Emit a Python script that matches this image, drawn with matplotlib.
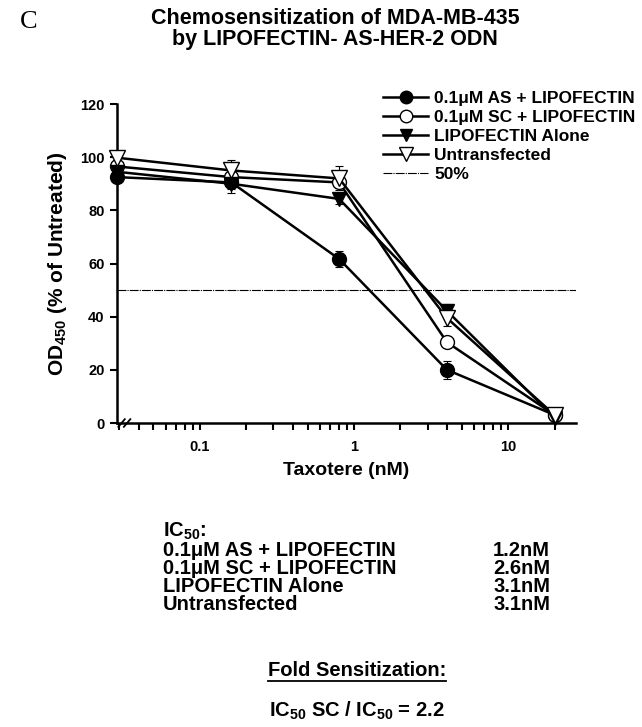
import matplotlib
matplotlib.use("Agg")
import matplotlib.pyplot as plt
from matplotlib.lines import Line2D
from matplotlib.ticker import FixedLocator, FixedFormatter, NullFormatter

plt.rcParams['font.family'] = ['Liberation Sans', 'DejaVu Sans']
plt.rcParams['font.weight'] = 'bold'
plt.rcParams['mathtext.fontset'] = 'custom'
plt.rcParams['mathtext.rm'] = 'Liberation Sans:bold'
plt.rcParams['mathtext.bf'] = 'Liberation Sans:bold'
plt.rcParams['mathtext.it'] = 'Liberation Sans:bold'

# ---- data ----
conc = [0.029, 0.16, 0.8, 4, 20]          # Taxotere (nM); first = untreated control at axis break
as_vals = [92.5, 90.5, 61.7, 20.0, 3.0]
as_err = [1.5, 4.0, 3.0, 3.5, 1.0]
sc_vals = [96.5, 92.5, 90.5, 30.4, 3.0]
sc_err = [1.5, 2.0, 2.0, 1.5, 1.0]
lipo_vals = [94.5, 90.0, 84.3, 42.2, 2.0]
lipo_err = [1.0, 2.0, 2.0, 2.5, 1.0]
untr_vals = [99.8, 95.0, 92.0, 39.5, 3.0]
untr_err = [2.0, 4.0, 4.5, 3.0, 1.0]
series_labels = ['0.1\u03bcM AS + LIPOFECTIN', '0.1\u03bcM SC + LIPOFECTIN',
                 'LIPOFECTIN Alone', 'Untransfected']
ref_level = 50
ref_label = '50%'
xticks_major = [0.1, 1, 10]
xtick_labels = ['0.1', '1', '10']
xticks_minor = [0.03, 0.04, 0.05, 0.06, 0.07, 0.08, 0.09,
                0.2, 0.3, 0.4, 0.5, 0.6, 0.7, 0.8, 0.9,
                2, 3, 4, 5, 6, 7, 8, 9, 20]
yticks = [0, 20, 40, 60, 80, 100, 120]
ic50_names = series_labels
ic50_vals = ['1.2nM', '2.6nM', '3.1nM', '3.1nM']

fig = plt.figure(figsize=(6.42, 7.27), dpi=100)
ax = fig.add_axes([117/642, 1-423/727, (576-117)/642, (423-104)/727])

styles = [
    dict(marker='o', mfc='black', mec='black', ms=10),
    dict(marker='o', mfc='white', mec='black', ms=10),
    dict(marker='v', mfc='black', mec='black', ms=10),
    dict(marker='v', mfc='white', mec='black', ms=11),
]
data = [(as_vals, as_err), (sc_vals, sc_err), (lipo_vals, lipo_err), (untr_vals, untr_err)]
handles = []
for (vals, err), st, lab in zip(data, styles, series_labels):
    ax.errorbar(conc, vals, yerr=err, fmt='none', ecolor='black', elinewidth=0.8,
                capsize=3, capthick=0.8, clip_on=False, zorder=2)
    ln, = ax.plot(conc, vals, color='black', lw=1.8, mew=1.0, clip_on=False,
                  zorder=3, label=lab, **st)
    handles.append(ln)

ls50 = (0, (8, 1, 1, 1))
ax.axhline(ref_level, color='black', lw=0.8, linestyle=ls50, zorder=1)
handles.append(Line2D([], [], color='black', lw=0.8, linestyle=ls50, label=ref_label))

ax.set_xscale('log')
ax.set_xlim(0.029, 27.5)
ax.set_ylim(0, 120)
ax.xaxis.set_major_locator(FixedLocator(xticks_major))
ax.xaxis.set_major_formatter(FixedFormatter(xtick_labels))
ax.xaxis.set_minor_locator(FixedLocator(xticks_minor))
ax.xaxis.set_minor_formatter(NullFormatter())
ax.set_yticks(yticks)
for s in ['top', 'right']:
    ax.spines[s].set_visible(False)
for s in ['left', 'bottom']:
    ax.spines[s].set_linewidth(1.8)
ax.tick_params(axis='both', which='both', direction='out', width=1.5, length=5,
               labelsize=10.5, pad=4)
ax.tick_params(axis='x', which='major', length=5, pad=7)

# axis break marks
for dx in (0.0, 0.012):
    ax.plot([0.003 + dx, 0.017 + dx], [-0.012, 0.012], transform=ax.transAxes,
            color='black', lw=1.3, clip_on=False, zorder=5)

ax.set_xlabel('Taxotere (nM)', fontsize=14, fontweight='bold', labelpad=6)
ax.set_ylabel(r'OD$_{450}$ (% of Untreated)', fontsize=15, fontweight='bold', labelpad=8)

fig.legend(handles=handles, loc='upper left', bbox_to_anchor=(383/642, 1-91/727),
           frameon=False, fontsize=12.5, handlelength=2.6, handletextpad=0.35,
           labelspacing=0.22, borderpad=0, borderaxespad=0, markerscale=0.9)

fig.text(335/642, 1-19/727, 'Chemosensitization of MDA-MB-435', ha='center', va='center',
         fontsize=15.5, fontweight='bold')
fig.text(335/642, 1-40/727, 'by LIPOFECTIN- AS-HER-2 ODN', ha='center', va='center',
         fontsize=15.5, fontweight='bold')
fig.text(20/642, 1-22/727, 'C', ha='left', va='center', fontsize=19,
         family=['Liberation Serif'], fontweight='normal')

fig.text(163/642, 1-531/727, r'IC$_{50}$:', ha='left', va='center', fontsize=14.5, fontweight='bold')
row_y = [550, 568, 586, 604]
for name, val, y in zip(ic50_names, ic50_vals, row_y):
    fig.text(163/642, 1-y/727, name, ha='left', va='center', fontsize=14.5, fontweight='bold')
    fig.text(550/642, 1-y/727, val, ha='right', va='center', fontsize=14.5, fontweight='bold')

t = fig.text(357/642, 1-671/727, 'Fold Sensitization:', ha='center', va='center',
             fontsize=14.5, fontweight='bold')
fig.canvas.draw()
bb = t.get_window_extent()
fig.add_artist(Line2D([bb.x0 / fig.bbox.width, bb.x1 / fig.bbox.width],
                      [(bb.y0 - 0.5) / fig.bbox.height] * 2, color='black', lw=1.3,
                      transform=fig.transFigure))
fig.text(357/642, 1-711/727, r'IC$_{50}$ SC / IC$_{50}$ = 2.2', ha='center', va='center',
         fontsize=14.5, fontweight='bold')

fig.savefig('out.png', dpi=100)
